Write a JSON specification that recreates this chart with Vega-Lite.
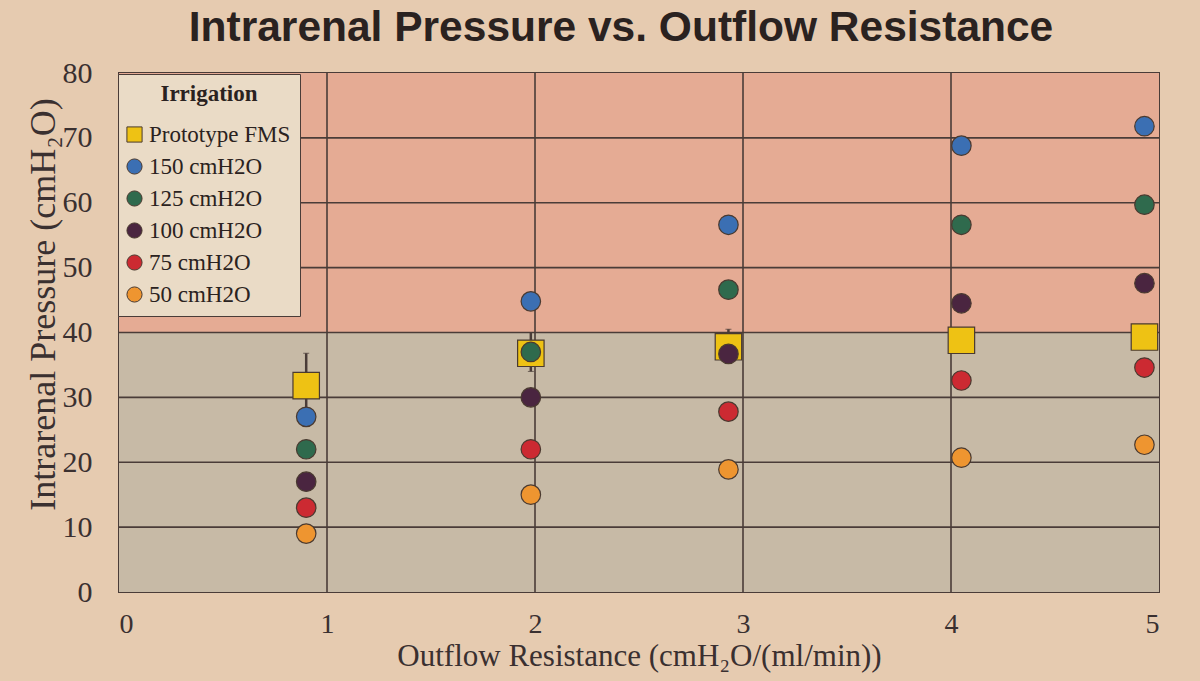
{
  "$schema": "https://vega.github.io/schema/vega-lite/v6.json",
  "width": 1040,
  "height": 519,
  "autosize": "none",
  "padding": {"left": 119, "top": 73, "right": 41, "bottom": 89},
  "background": "#e6cbb0",
  "title": {
    "text": "Intrarenal Pressure vs. Outflow Resistance",
    "font": "Liberation Sans",
    "fontWeight": "bold",
    "fontSize": 42.5,
    "color": "#2a2220",
    "anchor": "middle",
    "frame": "group",
    "dx": -18,
    "offset": 9
  },
  "config": {
    "view": {"stroke": "#4a3c38", "strokeWidth": 2},
    "axis": {
      "labelFont": "Liberation Serif",
      "titleFont": "Liberation Serif",
      "labelColor": "#3a3030",
      "titleColor": "#3a3030",
      "titleFontWeight": "normal",
      "labelFontSize": 30,
      "titleFontSize": 31,
      "domain": false,
      "ticks": false,
      "grid": false
    }
  },
  "layer": [
    {
      "data": {"values": [
        {"zone": "above", "lo": 40, "hi": 80},
        {"zone": "below", "lo": 0, "hi": 40}
      ]},
      "mark": {"type": "rect"},
      "encoding": {
        "x": {"datum": 0, "type": "quantitative", "title": "Outflow Resistance (cmH₂O/(ml/min))"},
        "x2": {"datum": 5},
        "y": {"field": "lo", "type": "quantitative", "title": "Intrarenal Pressure (cmH₂O)"},
        "y2": {"field": "hi"},
        "fill": {"field": "zone", "type": "nominal", "scale": {"domain": ["above", "below"], "range": ["#e5ab94", "#c7baa6"]}, "legend": null}
      }
    },
    {
      "data": {"values": [{"v": 10}, {"v": 20}, {"v": 30}, {"v": 40}, {"v": 50}, {"v": 60}, {"v": 70}]},
      "mark": {"type": "rule", "color": "#4a3c38", "strokeWidth": 1.6},
      "encoding": {
        "y": {"field": "v", "type": "quantitative", "title": "Intrarenal Pressure (cmH₂O)"}
      }
    },
    {
      "data": {"values": [{"v": 1}, {"v": 2}, {"v": 3}, {"v": 4}]},
      "mark": {"type": "rule", "color": "#4a3c38", "strokeWidth": 1.6},
      "encoding": {
        "x": {"field": "v", "type": "quantitative", "title": "Outflow Resistance (cmH₂O/(ml/min))"}
      }
    },
    {
      "data": {"values": [
        {"x": 0.9, "lo": 28, "hi": 36.8},
        {"x": 1.98, "lo": 34, "hi": 40},
        {"x": 2.93, "lo": 36, "hi": 40.5}
      ]},
      "mark": {"type": "errorbar", "ticks": {"size": 6, "color": "#4a3c38"}, "rule": {"color": "#4a3c38", "strokeWidth": 2.5}},
      "encoding": {
        "x": {"field": "x", "type": "quantitative", "title": "Outflow Resistance (cmH₂O/(ml/min))"},
        "y": {"field": "lo", "type": "quantitative", "title": "Intrarenal Pressure (cmH₂O)"},
        "y2": {"field": "hi"}
      }
    },
    {
      "data": {"values": [
        {"x": 0.9, "y": 31.8, "series": "Prototype FMS"},
        {"x": 1.98, "y": 36.8, "series": "Prototype FMS"},
        {"x": 2.93, "y": 37.8, "series": "Prototype FMS"},
        {"x": 4.05, "y": 38.8, "series": "Prototype FMS"},
        {"x": 4.93, "y": 39.3, "series": "Prototype FMS"},
        {"x": 0.9, "y": 27, "series": "150 cmH2O"},
        {"x": 1.98, "y": 44.8, "series": "150 cmH2O"},
        {"x": 2.93, "y": 56.6, "series": "150 cmH2O"},
        {"x": 4.05, "y": 68.8, "series": "150 cmH2O"},
        {"x": 4.93, "y": 71.8, "series": "150 cmH2O"},
        {"x": 0.9, "y": 22, "series": "125 cmH2O"},
        {"x": 1.98, "y": 37, "series": "125 cmH2O"},
        {"x": 2.93, "y": 46.6, "series": "125 cmH2O"},
        {"x": 4.05, "y": 56.6, "series": "125 cmH2O"},
        {"x": 4.93, "y": 59.7, "series": "125 cmH2O"},
        {"x": 0.9, "y": 17, "series": "100 cmH2O"},
        {"x": 1.98, "y": 30, "series": "100 cmH2O"},
        {"x": 2.93, "y": 36.7, "series": "100 cmH2O"},
        {"x": 4.05, "y": 44.5, "series": "100 cmH2O"},
        {"x": 4.93, "y": 47.6, "series": "100 cmH2O"},
        {"x": 0.9, "y": 13, "series": "75 cmH2O"},
        {"x": 1.98, "y": 22, "series": "75 cmH2O"},
        {"x": 2.93, "y": 27.8, "series": "75 cmH2O"},
        {"x": 4.05, "y": 32.6, "series": "75 cmH2O"},
        {"x": 4.93, "y": 34.6, "series": "75 cmH2O"},
        {"x": 0.9, "y": 9, "series": "50 cmH2O"},
        {"x": 1.98, "y": 15, "series": "50 cmH2O"},
        {"x": 2.93, "y": 18.9, "series": "50 cmH2O"},
        {"x": 4.05, "y": 20.7, "series": "50 cmH2O"},
        {"x": 4.93, "y": 22.7, "series": "50 cmH2O"}
      ]},
      "transform": [{"calculate": "datum.series === 'Prototype FMS' ? 0 : 1", "as": "ord"}],
      "mark": {"type": "point", "filled": true, "opacity": 1, "stroke": "#4a3a30", "strokeWidth": 1.2},
      "encoding": {
        "x": {
          "field": "x", "type": "quantitative",
          "title": "Outflow Resistance (cmH₂O/(ml/min))",
          "scale": {"domain": [0, 5], "nice": false, "zero": true},
          "axis": {
            "values": [0, 1, 2, 3, 4, 5],
            "format": "d",
            "labelFontSize": 28,
            "labelPadding": 18,
            "titlePadding": 3
          }
        },
        "y": {
          "field": "y", "type": "quantitative",
          "title": "Intrarenal Pressure (cmH₂O)",
          "scale": {"domain": [0, 80], "nice": false},
          "axis": {
            "values": [0, 10, 20, 30, 40, 50, 60, 70, 80],
            "labelPadding": 27,
            "titleFontSize": 36,
            "titleX": -57,
            "titleY": 231
          }
        },
        "order": {"field": "ord", "type": "quantitative"},
        "color": {
          "field": "series", "type": "nominal",
          "scale": {
            "domain": ["Prototype FMS", "150 cmH2O", "125 cmH2O", "100 cmH2O", "75 cmH2O", "50 cmH2O"],
            "range": ["#eec214", "#3b6fb3", "#2f6a4d", "#4a2540", "#cc2a32", "#ee9530"]
          },
          "legend": {
            "title": "Irrigation",
            "orient": "none",
            "legendX": -1,
            "legendY": 1,
            "fillColor": "#eadbc6",
            "strokeColor": "#4a3c38",
            "padding": 9,
            "titleFont": "Liberation Serif",
            "titleFontSize": 23,
            "titleFontWeight": "bold",
            "titleColor": "#2a2220",
            "titleAnchor": "middle",
            "titlePadding": 17,
            "labelFont": "Liberation Serif",
            "labelFontSize": 23,
            "labelColor": "#2a2220",
            "symbolSize": 230,
            "symbolStrokeColor": "#4a3a30",
            "symbolStrokeWidth": 1,
            "rowPadding": 8,
            "labelOffset": 3,
            "symbolOffset": -4
          }
        },
        "shape": {
          "field": "series", "type": "nominal",
          "scale": {
            "domain": ["Prototype FMS", "150 cmH2O", "125 cmH2O", "100 cmH2O", "75 cmH2O", "50 cmH2O"],
            "range": ["square", "circle", "circle", "circle", "circle", "circle"]
          },
          "legend": {"title": "Irrigation"}
        },
        "size": {
          "condition": {"test": "datum.series === 'Prototype FMS'", "value": 700},
          "value": 380
        }
      }
    }
  ]
}
